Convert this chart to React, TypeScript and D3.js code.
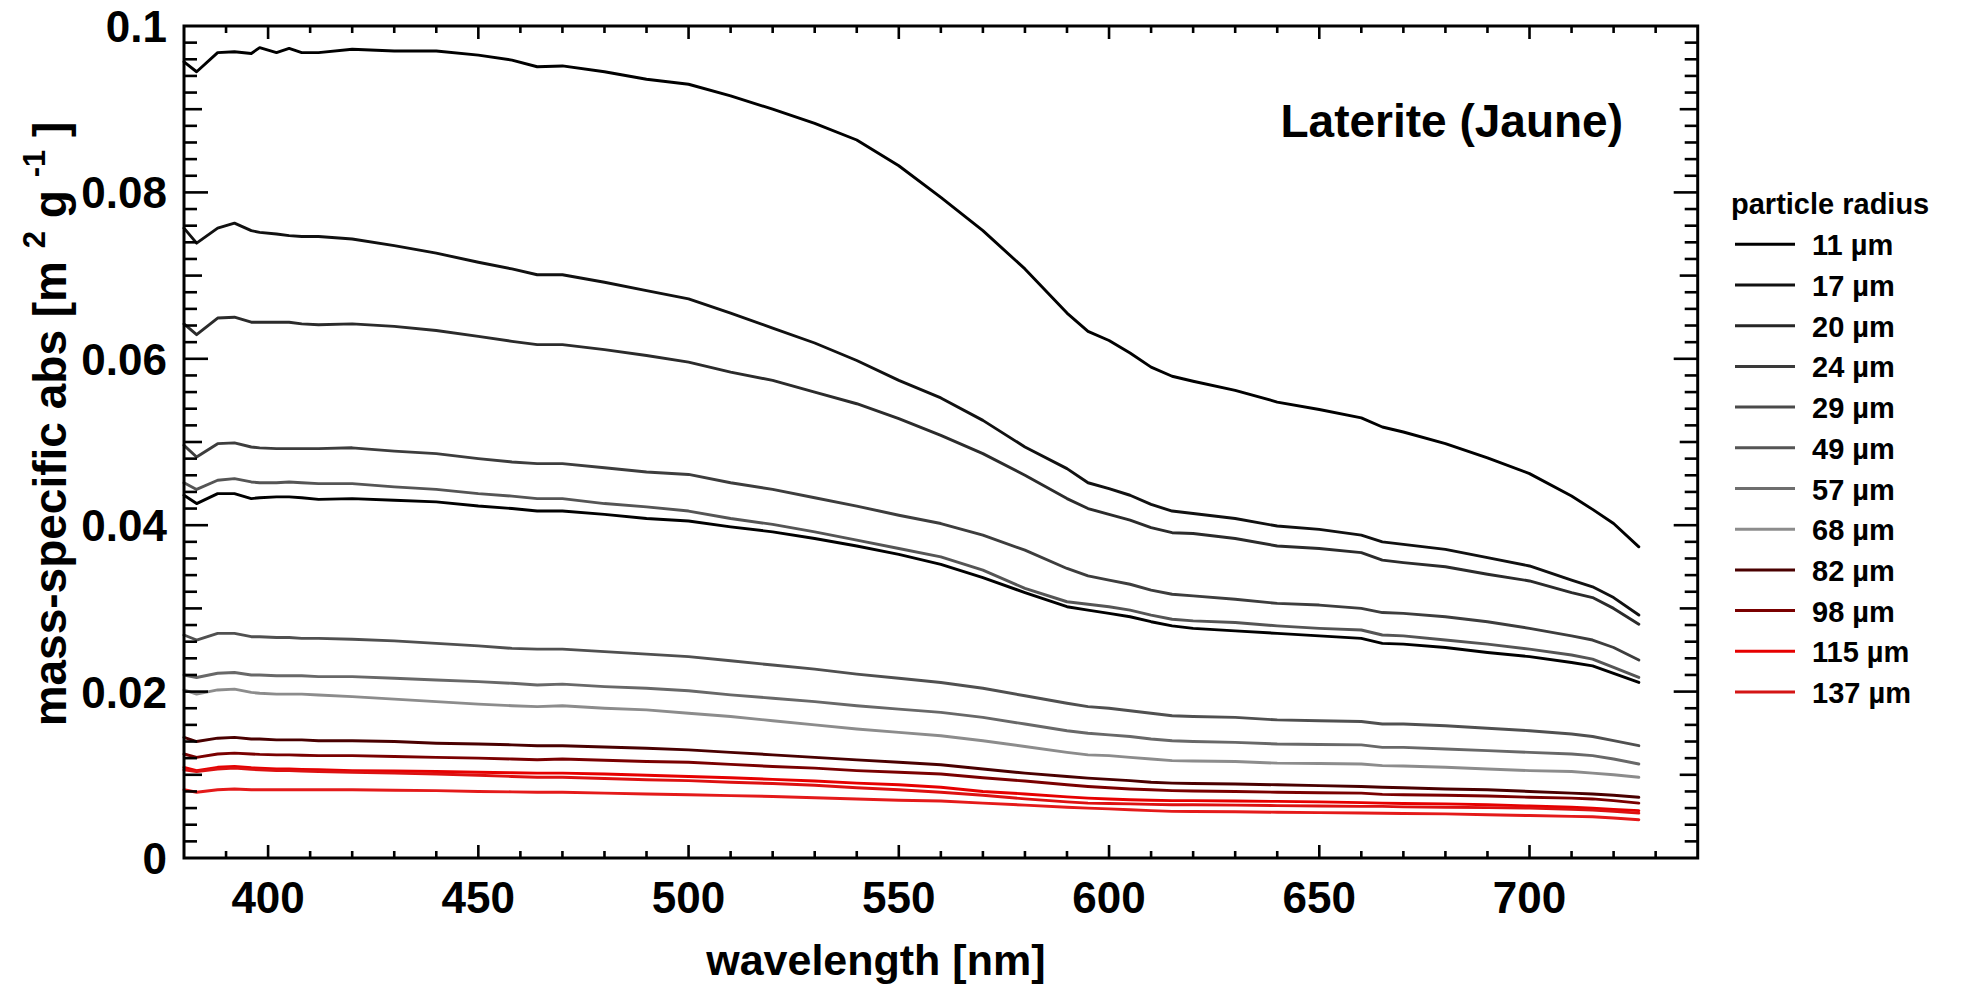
import React from "react";
import * as d3 from "d3";

// wavelength grid [nm]
const WAVELENGTHS = [380, 383, 388, 392, 396, 398, 402, 405, 408, 412, 420, 430, 440, 450, 458, 464, 470, 480, 490, 500, 510, 520, 530, 540, 550, 560, 570, 580, 590, 595, 600, 605, 610, 615, 620, 630, 640, 650, 660, 665, 670, 680, 690, 700, 710, 715, 720, 726];

// mass-specific absorption, in units of 1e-3 m2 g-1
const CURVE_A = [95.7, 94.5, 96.8, 96.9, 96.7, 97.4, 96.8, 97.3, 96.8, 96.8, 97.2, 97.0, 97.0, 96.5, 95.9, 95.1, 95.2, 94.5, 93.6, 93.0, 91.6, 90.0, 88.3, 86.3, 83.2, 79.4, 75.4, 70.8, 65.5, 63.3, 62.2, 60.7, 59.0, 57.9, 57.3, 56.2, 54.8, 53.9, 52.9, 51.8, 51.2, 49.8, 48.1, 46.2, 43.5, 41.9, 40.2, 37.4];
const CURVE_B = [75.7, 73.9, 75.7, 76.3, 75.4, 75.2, 75.0, 74.8, 74.7, 74.7, 74.4, 73.6, 72.7, 71.6, 70.8, 70.1, 70.1, 69.2, 68.2, 67.2, 65.5, 63.7, 61.9, 59.8, 57.4, 55.3, 52.6, 49.4, 46.8, 45.1, 44.4, 43.6, 42.5, 41.7, 41.4, 40.8, 39.9, 39.5, 38.8, 38.0, 37.7, 37.1, 36.1, 35.1, 33.4, 32.6, 31.3, 29.2];
const CURVE_C = [64.2, 62.9, 64.9, 65.0, 64.4, 64.4, 64.4, 64.4, 64.2, 64.1, 64.2, 63.9, 63.4, 62.7, 62.1, 61.7, 61.7, 61.1, 60.4, 59.6, 58.4, 57.4, 56.0, 54.6, 52.8, 50.8, 48.6, 46.0, 43.2, 42.0, 41.3, 40.6, 39.7, 39.1, 39.0, 38.4, 37.5, 37.2, 36.7, 35.8, 35.5, 35.0, 34.1, 33.3, 31.9, 31.3, 30.0, 28.1];
const CURVE_D = [49.6, 48.2, 49.8, 49.9, 49.4, 49.3, 49.2, 49.2, 49.2, 49.2, 49.3, 48.9, 48.6, 48.0, 47.6, 47.4, 47.4, 46.9, 46.4, 46.1, 45.1, 44.3, 43.3, 42.3, 41.2, 40.2, 38.8, 37.0, 34.8, 33.9, 33.4, 32.9, 32.2, 31.7, 31.5, 31.1, 30.6, 30.4, 30.0, 29.5, 29.4, 29.0, 28.4, 27.6, 26.7, 26.2, 25.3, 23.8];
const CURVE_E = [45.1, 44.3, 45.4, 45.6, 45.2, 45.1, 45.1, 45.2, 45.1, 45.0, 45.0, 44.6, 44.3, 43.8, 43.5, 43.2, 43.2, 42.6, 42.2, 41.7, 40.8, 40.1, 39.2, 38.2, 37.2, 36.2, 34.6, 32.4, 30.8, 30.5, 30.2, 29.8, 29.2, 28.7, 28.5, 28.3, 27.9, 27.6, 27.4, 26.8, 26.7, 26.2, 25.7, 25.1, 24.4, 23.9, 22.9, 21.7];
const CURVE_F = [43.6, 42.6, 43.8, 43.8, 43.2, 43.3, 43.4, 43.4, 43.3, 43.1, 43.2, 43.0, 42.8, 42.3, 42.0, 41.7, 41.7, 41.3, 40.8, 40.5, 39.8, 39.2, 38.4, 37.5, 36.5, 35.3, 33.7, 31.9, 30.2, 29.8, 29.4, 29.0, 28.4, 27.9, 27.6, 27.3, 27.0, 26.7, 26.4, 25.8, 25.7, 25.3, 24.7, 24.2, 23.5, 23.1, 22.2, 21.1];
const CURVE_G = [26.8, 26.2, 27.0, 27.0, 26.6, 26.6, 26.5, 26.5, 26.4, 26.4, 26.3, 26.1, 25.8, 25.5, 25.2, 25.1, 25.1, 24.8, 24.5, 24.2, 23.7, 23.2, 22.7, 22.1, 21.6, 21.1, 20.4, 19.5, 18.6, 18.2, 18.0, 17.7, 17.4, 17.1, 17.0, 16.9, 16.6, 16.5, 16.4, 16.1, 16.1, 15.9, 15.6, 15.3, 14.9, 14.6, 14.1, 13.5];
const CURVE_H = [22.0, 21.7, 22.2, 22.3, 22.0, 22.0, 21.9, 21.9, 21.9, 21.8, 21.8, 21.6, 21.4, 21.2, 21.0, 20.8, 20.9, 20.6, 20.4, 20.1, 19.6, 19.2, 18.8, 18.3, 17.9, 17.5, 16.9, 16.1, 15.3, 15.0, 14.8, 14.6, 14.3, 14.1, 14.0, 13.9, 13.7, 13.65, 13.6, 13.3, 13.3, 13.1, 12.9, 12.7, 12.5, 12.3, 11.9, 11.3];
const CURVE_I = [20.2, 19.7, 20.2, 20.3, 19.9, 19.8, 19.7, 19.7, 19.7, 19.6, 19.4, 19.1, 18.8, 18.5, 18.3, 18.2, 18.3, 18.0, 17.8, 17.4, 17.0, 16.5, 16.0, 15.5, 15.1, 14.7, 14.1, 13.4, 12.7, 12.4, 12.3, 12.1, 11.9, 11.7, 11.65, 11.6, 11.4, 11.35, 11.3, 11.1, 11.05, 10.9, 10.7, 10.5, 10.4, 10.2, 10.0, 9.7];
const CURVE_J = [14.5, 14.0, 14.4, 14.5, 14.3, 14.3, 14.2, 14.2, 14.2, 14.1, 14.1, 14.0, 13.8, 13.7, 13.6, 13.5, 13.5, 13.35, 13.2, 13.0, 12.7, 12.4, 12.1, 11.8, 11.5, 11.2, 10.7, 10.2, 9.8, 9.6, 9.45, 9.3, 9.1, 9.0, 8.95, 8.9, 8.8, 8.7, 8.6, 8.5, 8.45, 8.3, 8.2, 8.0, 7.8, 7.7, 7.55, 7.3];
const CURVE_K = [12.5, 12.1, 12.5, 12.6, 12.5, 12.45, 12.4, 12.4, 12.35, 12.3, 12.3, 12.2, 12.1, 12.0, 11.9, 11.8, 11.9, 11.75, 11.6, 11.5, 11.25, 11.0, 10.8, 10.5, 10.3, 10.1, 9.65, 9.25, 8.8, 8.6, 8.45, 8.3, 8.2, 8.1, 8.05, 8.0, 7.9, 7.85, 7.8, 7.65, 7.6, 7.55, 7.45, 7.3, 7.2, 7.1, 6.9, 6.6];
const CURVE_L = [10.9, 10.5, 10.9, 11.0, 10.85, 10.8, 10.7, 10.7, 10.65, 10.6, 10.5, 10.45, 10.4, 10.3, 10.25, 10.2, 10.2, 10.1, 9.95, 9.8, 9.65, 9.45, 9.25, 9.0, 8.8, 8.5, 8.0, 7.7, 7.35, 7.2, 7.1, 7.0, 6.95, 6.9, 6.9, 6.85, 6.8, 6.75, 6.65, 6.6, 6.55, 6.5, 6.4, 6.25, 6.1, 6.0, 5.85, 5.7];
const CURVE_M = [10.6, 10.4, 10.7, 10.8, 10.65, 10.6, 10.5, 10.5, 10.45, 10.4, 10.3, 10.2, 10.1, 9.95, 9.8, 9.7, 9.7, 9.55, 9.4, 9.3, 9.1, 8.95, 8.75, 8.45, 8.2, 7.9, 7.55, 7.1, 6.75, 6.6, 6.55, 6.5, 6.45, 6.4, 6.4, 6.35, 6.3, 6.25, 6.2, 6.2, 6.15, 6.1, 6.05, 6.0, 5.85, 5.75, 5.6, 5.4];
const CURVE_N = [8.2, 7.9, 8.2, 8.3, 8.2, 8.2, 8.2, 8.2, 8.2, 8.2, 8.2, 8.15, 8.1, 8.0, 7.95, 7.9, 7.9, 7.8, 7.7, 7.6, 7.5, 7.4, 7.25, 7.1, 6.95, 6.85, 6.6, 6.35, 6.1, 6.0, 5.9, 5.8, 5.7, 5.6, 5.58, 5.55, 5.5, 5.45, 5.4, 5.38, 5.35, 5.3, 5.2, 5.1, 5.0, 4.95, 4.8, 4.6];
const VALUE_UNIT = 1e-3;

const CURVES = [CURVE_A, CURVE_B, CURVE_C, CURVE_D, CURVE_E, CURVE_F, CURVE_G, CURVE_H, CURVE_I, CURVE_J, CURVE_K, CURVE_L, CURVE_M, CURVE_N];
const CURVE_COLORS = ["#000000", "#111111", "#2b2b2b", "#3d3d3d", "#555555", "#000000", "#505050", "#686868", "#8c8c8c", "#4a0000", "#7a0000", "#e60000", "#dd1111", "#e41a1a"];

const LEGEND_LABELS = ["11 µm", "17 µm", "20 µm", "24 µm", "29 µm", "49 µm", "57 µm", "68 µm", "82 µm", "98 µm", "115 µm", "137 µm"];
const LEGEND_COLORS = ["#000000", "#111111", "#262626", "#3a3a3a", "#4a4a4a", "#555555", "#6e6e6e", "#8c8c8c", "#4a0000", "#7a0000", "#e60000", "#d41515"];

const X_DOMAIN = [380, 740];
const Y_DOMAIN = [0, 0.1];
const X_MAJOR = [400, 450, 500, 550, 600, 650, 700];
const Y_MAJOR = [0, 0.02, 0.04, 0.06, 0.08, 0.1];
const Y_LABELS = ["0", "0.02", "0.04", "0.06", "0.08", "0.1"];

const FONT = "'Liberation Sans', Arial, Helvetica, sans-serif";

export default function App() {
  const W = 1970, H = 987;
  const L = 184, R = 1697.7, T = 26, B = 858;
  const x = d3.scaleLinear().domain(X_DOMAIN).range([L, R]);
  const y = d3.scaleLinear().domain(Y_DOMAIN).range([B, T]);
  const line = d3.line<number>()
    .x((_, i) => x(WAVELENGTHS[i]))
    .y((v) => y(v * VALUE_UNIT));

  const xMinor = d3.range(390, 740, 10);
  const yMinor = d3.range(1, 50).map((k) => k * 0.002);

  const isMajorX = (v: number) => Math.abs(v % 50) < 1e-6;
  const yTickLen = (v: number) => {
    const k = Math.round(v / 0.002);
    if (k % 10 === 0) return 24;
    if (k % 5 === 0) return 18;
    return 13;
  };

  const legendX = 1735, legendY0 = 244.3, legendDy = 40.7;

  return (
    <div style={{ position: "fixed", left: 0, top: 0 }}>
      <svg width={W} height={H} style={{ display: "block", background: "#fff" }} fontFamily={FONT}>
        <rect x={0} y={0} width={W} height={H} fill="#fff" />
        {/* curves */}
        <g fill="none" strokeWidth={2.9} strokeLinejoin="round" strokeLinecap="round">
          {CURVES.map((c, i) => (
            <path key={i} d={line(c) || ""} stroke={CURVE_COLORS[i]} />
          ))}
        </g>
        {/* ticks */}
        <g stroke="#000" strokeWidth={2.6}>
          {xMinor.map((v) => {
            const len = isMajorX(v) ? 13 : 7;
            return (
              <g key={"xt" + v}>
                <line x1={x(v)} x2={x(v)} y1={B} y2={B - len} />
                <line x1={x(v)} x2={x(v)} y1={T} y2={T + len} />
              </g>
            );
          })}
          {yMinor.map((v) => {
            const len = yTickLen(v);
            return (
              <g key={"yt" + v}>
                <line x1={L} x2={L + len} y1={y(v)} y2={y(v)} />
                <line x1={R} x2={R - len} y1={y(v)} y2={y(v)} />
              </g>
            );
          })}
        </g>
        {/* frame */}
        <rect x={L} y={T} width={R - L} height={B - T} fill="none" stroke="#000" strokeWidth={3} />
        {/* x tick labels */}
        <g fontSize={44} fontWeight="bold" textAnchor="middle" fill="#000">
          {X_MAJOR.map((v) => (
            <text key={"xl" + v} x={x(v)} y={913}>{v}</text>
          ))}
        </g>
        {/* y tick labels */}
        <g fontSize={44} fontWeight="bold" textAnchor="end" fill="#000">
          {Y_MAJOR.map((v, i) => (
            <text key={"yl" + v} x={167} y={y(v) + 16}>{Y_LABELS[i]}</text>
          ))}
        </g>
        {/* axis titles */}
        <text x={(L + R) / 2 - 65} y={975} fontSize={43} fontWeight="bold" textAnchor="middle">wavelength [nm]</text>
        <text transform="translate(66,424) rotate(-90)" fontSize={46} fontWeight="bold" textAnchor="middle">
          mass-specific abs [m <tspan fontSize={31} dy={-21}>2</tspan><tspan dy={21}> g </tspan><tspan fontSize={31} dy={-21}>-1</tspan><tspan dy={21}> ]</tspan>
        </text>
        {/* inset title */}
        <text x={1623} y={137} fontSize={46} fontWeight="bold" textAnchor="end">Laterite (Jaune)</text>
        {/* legend */}
        <text x={1731} y={214} fontSize={29} fontWeight="bold">particle radius</text>
        {LEGEND_LABELS.map((lab, i) => {
          const yy = legendY0 + i * legendDy;
          return (
            <g key={"lg" + i}>
              <line x1={legendX} x2={legendX + 60} y1={yy} y2={yy} stroke={LEGEND_COLORS[i]} strokeWidth={3} />
              <text x={1812} y={yy + 11} fontSize={29} fontWeight="bold">{lab}</text>
            </g>
          );
        })}
      </svg>
    </div>
  );
}
